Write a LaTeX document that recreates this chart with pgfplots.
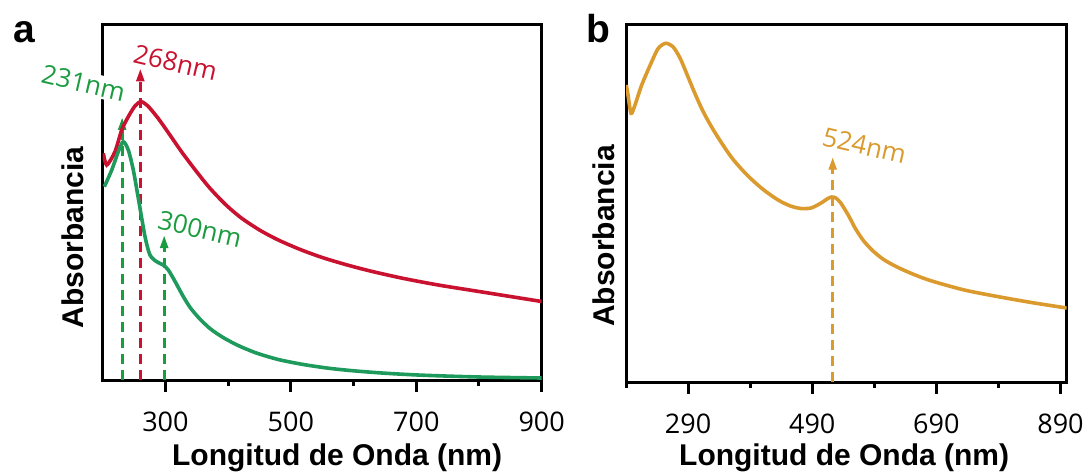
\documentclass[border=0pt]{standalone}
\usepackage{pgfplots}
\pgfplotsset{compat=1.18}
\usepackage{fontspec}
\setmainfont{Open Sans}
\newfontfamily\labfont{Liberation Sans}
\usetikzlibrary{arrows.meta}
\definecolor{cred}{RGB}{200,18,48}
\definecolor{cgreen}{RGB}{30,154,92}
\definecolor{cgreent}{RGB}{28,156,64}
\definecolor{corange}{RGB}{218,154,46}
\pgfplotsset{
  myax/.style={
    scale only axis,
    axis line style={line width=1.5pt},
    ymin=0,
    ytick=\empty,
    tick align=outside,
    xtick pos=bottom,
    major tick length=6pt,
    minor tick length=3pt,
    every tick/.style={black, line width=1.5pt},
    xticklabel style={font=\fontsize{13.5}{13.5}\selectfont, anchor=base, yshift=-19.5pt},
    /pgf/number format/assume math mode=true,
    label style={font=\labfont\bfseries\fontsize{15}{15}\selectfont},
  },
  arr/.style={line width=1.6pt, dash pattern=on 5pt off 3pt, -{Triangle[length=6.5pt,width=3.8pt]}},
  curve/.style={line width=1.8pt, smooth, tension=0.45, no markers},
}
\begin{document}
\begin{tikzpicture}
\useasboundingbox (0,0) rectangle (544pt,236.5pt);
\begin{axis}[myax, at={(51.35pt,46.5pt)}, anchor=south west,
  width=219.5pt, height=177.5pt,
  xmin=200, xmax=900, ymax=355,
  xtick={300,500,700,900}, minor xtick={400,600,800},
  xlabel={Longitud de Onda (nm)}, ylabel={Absorbancia},
  x label style={at={(axis description cs:0.534,-0.242)}, anchor=base},
  y label style={at={(axis description cs:-0.0426,0.401)}, anchor=base, rotate=0},
]
\addplot[arr, cgreent] coordinates {(231,0) (231,263)};
\addplot[arr, cred] coordinates {(260,0) (260,311.7)};
\addplot[arr, cgreent] coordinates {(298,0) (298,145)};
\addplot[curve, cred] coordinates {
(201.0,226.7) (206.4,215) (219.6,228.3) (230.3,250) (240.8,263.3) (251.5,274)
(261.1,278.3) (272,274) (288,262) (305,247) (326,228) (347,210.5) (370,192.5)
(395,176) (420,162.5) (450,150) (480,140) (515,130.5) (550,122.5) (590,115)
(630,108.5) (680,101.5) (735,95) (790,89.5) (845,84) (900,78.5)
};
\addplot[curve, cgreen] coordinates {
(202.6,193.3) (214.4,210) (224.9,228.3) (232.8,238.3) (240.8,230) (248.8,210)
(256.8,181.7) (267.5,143.3) (275.4,125) (286.1,118.3) (296.6,115) (304.6,110)
(315,99) (328,84) (340,72) (355,61) (372,51) (392,42.5) (416,34.5) (445,27)
(480,20.5) (520,15.5) (560,11.8) (600,9.2) (650,6.8) (710,4.8) (800,3) (900,2)
};
\end{axis}
\begin{axis}[myax, at={(313pt,45.5pt)}, anchor=south west,
  width=220.35pt, height=178.5pt,
  xmin=190, xmax=900, ymax=357,
  xtick={290,490,690,890}, minor xtick={190,390,590,790},
  xlabel={Longitud de Onda (nm)}, ylabel={Absorbancia},
  x label style={at={(axis description cs:0.495,-0.235)}, anchor=base},
  y label style={at={(axis description cs:-0.0272,0.409)}, anchor=base, rotate=0},
]
\addplot[arr, corange] coordinates {(523,0) (523,225.3)};
\addplot[curve, corange] coordinates {
(190.5,297) (193,288) (198.1,268.7) (204.5,277) (215.3,297) (231.4,320.3) (242.0,333.7)
(254,338.7) (266,335) (277,324) (288,308) (300,290) (313,272) (327,256) (343,240)
(362,223) (385,207) (410,193) (435,182) (455,176) (472,173.5) (488,174) (503,178.5)
(514,183) (521,185) (528,184) (536,179) (548,167) (560,153) (573,141) (588,131)
(605,122.5) (625,115.5) (650,108.5) (680,101.5) (735,92) (790,85.3) (845,79.3) (900,74)
};
\end{axis}
\node[font=\labfont\bfseries\fontsize{19.5}{19.5}\selectfont, anchor=base west, inner sep=0pt] at (6.5pt,215.5pt) {a};
\node[font=\labfont\bfseries\fontsize{19.5}{19.5}\selectfont, anchor=base west, inner sep=0pt] at (293pt,215.5pt) {b};
\node[text=cred, rotate=-13, font=\fontsize{13}{13}\selectfont] at (87.75pt,205.25pt) {268nm};
\node[text=cgreent, rotate=-13, fill=white, inner sep=1pt, font=\fontsize{13}{13}\selectfont] at (41.75pt,195pt) {231nm};
\node[text=cgreent, rotate=-13, font=\fontsize{13}{13}\selectfont] at (100pt,122pt) {300nm};
\node[text=corange, rotate=-13, font=\fontsize{13}{13}\selectfont] at (432.25pt,163.75pt) {524nm};
\end{tikzpicture}
\end{document}
